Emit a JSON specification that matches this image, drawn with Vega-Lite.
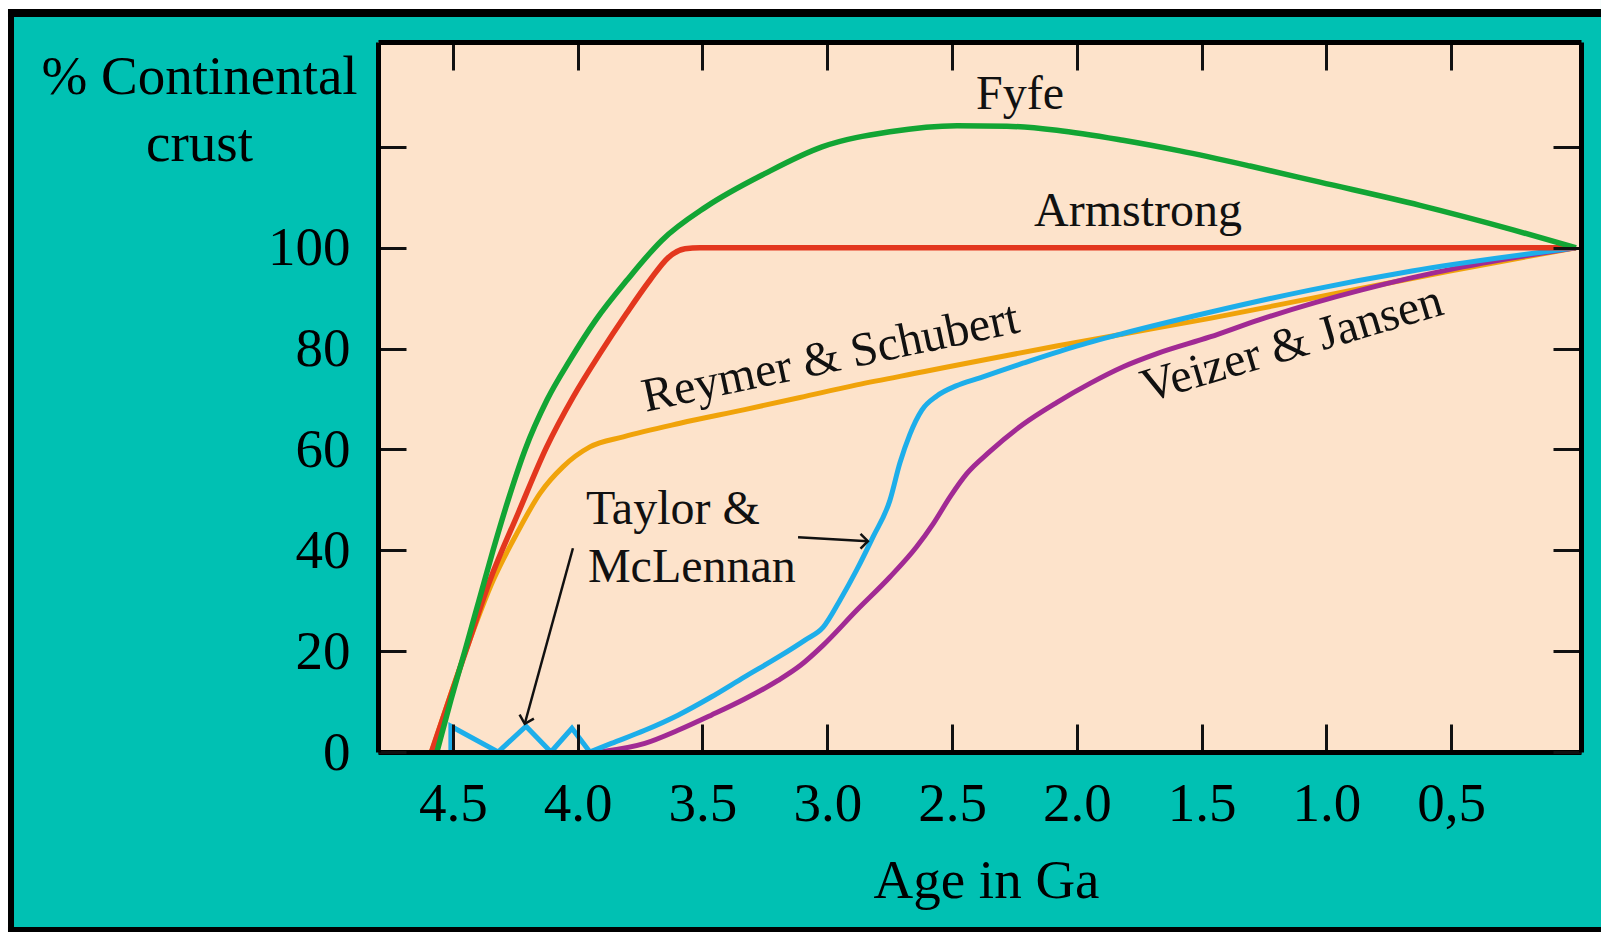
{
  "$schema": "https://vega.github.io/schema/vega-lite/v6.json",
  "width": 1203,
  "height": 710,
  "autosize": {"type": "none"},
  "padding": {"left": 378, "top": 42, "right": 20, "bottom": 180},
  "background": "#00C1B3",
  "config": {"view": {"stroke": null, "fill": null}},
  "datasets": {
    "one": [{}],
    "curves": [
      {"s": "Fyfe", "age": 4.564, "pct": 0},
      {"s": "Fyfe", "age": 4.508, "pct": 10.3},
      {"s": "Fyfe", "age": 4.451, "pct": 20.2},
      {"s": "Fyfe", "age": 4.395, "pct": 30.1},
      {"s": "Fyfe", "age": 4.339, "pct": 40.0},
      {"s": "Fyfe", "age": 4.279, "pct": 49.9},
      {"s": "Fyfe", "age": 4.211, "pct": 59.9},
      {"s": "Fyfe", "age": 4.123, "pct": 69.8},
      {"s": "Fyfe", "age": 4.031, "pct": 77.7},
      {"s": "Fyfe", "age": 3.927, "pct": 85.7},
      {"s": "Fyfe", "age": 3.802, "pct": 93.6},
      {"s": "Fyfe", "age": 3.662, "pct": 101.5},
      {"s": "Fyfe", "age": 3.486, "pct": 108.1},
      {"s": "Fyfe", "age": 3.246, "pct": 114.8},
      {"s": "Fyfe", "age": 3.021, "pct": 120.0},
      {"s": "Fyfe", "age": 2.749, "pct": 123.0},
      {"s": "Fyfe", "age": 2.48, "pct": 124.2},
      {"s": "Fyfe", "age": 2.28, "pct": 124.1},
      {"s": "Fyfe", "age": 2.08, "pct": 123.3},
      {"s": "Fyfe", "age": 1.815, "pct": 121.3},
      {"s": "Fyfe", "age": 1.587, "pct": 119.2},
      {"s": "Fyfe", "age": 1.306, "pct": 116.2},
      {"s": "Fyfe", "age": 1.026, "pct": 113.0},
      {"s": "Fyfe", "age": 0.625, "pct": 108.4},
      {"s": "Fyfe", "age": 0.249, "pct": 103.5},
      {"s": "Fyfe", "age": 0, "pct": 100},
      {"s": "Armstrong", "age": 4.586, "pct": 0},
      {"s": "Armstrong", "age": 4.447, "pct": 20.2},
      {"s": "Armstrong", "age": 4.351, "pct": 34.1},
      {"s": "Armstrong", "age": 4.239, "pct": 47.3},
      {"s": "Armstrong", "age": 4.124, "pct": 60.5},
      {"s": "Armstrong", "age": 4.018, "pct": 70.4},
      {"s": "Armstrong", "age": 3.911, "pct": 79.0},
      {"s": "Armstrong", "age": 3.804, "pct": 87.0},
      {"s": "Armstrong", "age": 3.71, "pct": 93.6},
      {"s": "Armstrong", "age": 3.638, "pct": 98.0},
      {"s": "Armstrong", "age": 3.57, "pct": 99.8},
      {"s": "Armstrong", "age": 3.51, "pct": 100},
      {"s": "Armstrong", "age": 2.0, "pct": 100},
      {"s": "Armstrong", "age": 0, "pct": 100},
      {"s": "Reymer & Schubert", "age": 4.586, "pct": 0},
      {"s": "Reymer & Schubert", "age": 4.447, "pct": 20.2},
      {"s": "Reymer & Schubert", "age": 4.338, "pct": 34.1},
      {"s": "Reymer & Schubert", "age": 4.244, "pct": 43.3},
      {"s": "Reymer & Schubert", "age": 4.151, "pct": 51.3},
      {"s": "Reymer & Schubert", "age": 4.058, "pct": 56.6},
      {"s": "Reymer & Schubert", "age": 3.951, "pct": 60.5},
      {"s": "Reymer & Schubert", "age": 3.817, "pct": 62.5},
      {"s": "Reymer & Schubert", "age": 3.59, "pct": 65.2},
      {"s": "Reymer & Schubert", "age": 3.331, "pct": 67.9},
      {"s": "Reymer & Schubert", "age": 3.109, "pct": 70.3},
      {"s": "Reymer & Schubert", "age": 2.882, "pct": 72.8},
      {"s": "Reymer & Schubert", "age": 2.615, "pct": 75.4},
      {"s": "Reymer & Schubert", "age": 2.348, "pct": 78.0},
      {"s": "Reymer & Schubert", "age": 2.081, "pct": 80.5},
      {"s": "Reymer & Schubert", "age": 1.814, "pct": 82.9},
      {"s": "Reymer & Schubert", "age": 1.467, "pct": 86.0},
      {"s": "Reymer & Schubert", "age": 1.066, "pct": 89.9},
      {"s": "Reymer & Schubert", "age": 0.505, "pct": 95.4},
      {"s": "Reymer & Schubert", "age": 0, "pct": 100},
      {"s": "Taylor & McLennan (early)", "age": 4.508, "pct": 0},
      {"s": "Taylor & McLennan (early)", "age": 4.508, "pct": 5.1},
      {"s": "Taylor & McLennan (early)", "age": 4.319, "pct": 0},
      {"s": "Taylor & McLennan (early)", "age": 4.207, "pct": 5.1},
      {"s": "Taylor & McLennan (early)", "age": 4.107, "pct": 0},
      {"s": "Taylor & McLennan (early)", "age": 4.023, "pct": 4.7},
      {"s": "Taylor & McLennan (early)", "age": 3.951, "pct": 0},
      {"s": "Taylor & McLennan", "age": 3.951, "pct": 0},
      {"s": "Taylor & McLennan", "age": 3.865, "pct": 1.7},
      {"s": "Taylor & McLennan", "age": 3.731, "pct": 4.3},
      {"s": "Taylor & McLennan", "age": 3.598, "pct": 7.3},
      {"s": "Taylor & McLennan", "age": 3.465, "pct": 10.9},
      {"s": "Taylor & McLennan", "age": 3.331, "pct": 14.9},
      {"s": "Taylor & McLennan", "age": 3.197, "pct": 18.8},
      {"s": "Taylor & McLennan", "age": 3.089, "pct": 22.2},
      {"s": "Taylor & McLennan", "age": 3.017, "pct": 24.7},
      {"s": "Taylor & McLennan", "age": 2.949, "pct": 30.1},
      {"s": "Taylor & McLennan", "age": 2.882, "pct": 36.1},
      {"s": "Taylor & McLennan", "age": 2.816, "pct": 42.7},
      {"s": "Taylor & McLennan", "age": 2.749, "pct": 49.9},
      {"s": "Taylor & McLennan", "age": 2.709, "pct": 57.3},
      {"s": "Taylor & McLennan", "age": 2.669, "pct": 63.0},
      {"s": "Taylor & McLennan", "age": 2.621, "pct": 67.8},
      {"s": "Taylor & McLennan", "age": 2.561, "pct": 70.6},
      {"s": "Taylor & McLennan", "age": 2.484, "pct": 72.6},
      {"s": "Taylor & McLennan", "age": 2.388, "pct": 74.2},
      {"s": "Taylor & McLennan", "age": 2.216, "pct": 77.1},
      {"s": "Taylor & McLennan", "age": 2.014, "pct": 80.3},
      {"s": "Taylor & McLennan", "age": 1.814, "pct": 83.0},
      {"s": "Taylor & McLennan", "age": 1.467, "pct": 87.2},
      {"s": "Taylor & McLennan", "age": 1.066, "pct": 91.6},
      {"s": "Taylor & McLennan", "age": 0.657, "pct": 95.4},
      {"s": "Taylor & McLennan", "age": 0, "pct": 100},
      {"s": "Veizer & Jansen", "age": 3.911, "pct": 0},
      {"s": "Veizer & Jansen", "age": 3.731, "pct": 1.7},
      {"s": "Veizer & Jansen", "age": 3.598, "pct": 4.3},
      {"s": "Veizer & Jansen", "age": 3.465, "pct": 7.3},
      {"s": "Veizer & Jansen", "age": 3.331, "pct": 10.5},
      {"s": "Veizer & Jansen", "age": 3.197, "pct": 14.2},
      {"s": "Veizer & Jansen", "age": 3.107, "pct": 17.2},
      {"s": "Veizer & Jansen", "age": 3.016, "pct": 21.2},
      {"s": "Veizer & Jansen", "age": 2.882, "pct": 28.1},
      {"s": "Veizer & Jansen", "age": 2.749, "pct": 34.7},
      {"s": "Veizer & Jansen", "age": 2.642, "pct": 40.7},
      {"s": "Veizer & Jansen", "age": 2.575, "pct": 45.3},
      {"s": "Veizer & Jansen", "age": 2.508, "pct": 50.6},
      {"s": "Veizer & Jansen", "age": 2.441, "pct": 55.2},
      {"s": "Veizer & Jansen", "age": 2.348, "pct": 59.6},
      {"s": "Veizer & Jansen", "age": 2.215, "pct": 65.0},
      {"s": "Veizer & Jansen", "age": 2.081, "pct": 69.3},
      {"s": "Veizer & Jansen", "age": 1.947, "pct": 73.1},
      {"s": "Veizer & Jansen", "age": 1.814, "pct": 76.4},
      {"s": "Veizer & Jansen", "age": 1.679, "pct": 79.0},
      {"s": "Veizer & Jansen", "age": 1.467, "pct": 82.3},
      {"s": "Veizer & Jansen", "age": 1.27, "pct": 85.7},
      {"s": "Veizer & Jansen", "age": 0.862, "pct": 91.6},
      {"s": "Veizer & Jansen", "age": 0.453, "pct": 96.2},
      {"s": "Veizer & Jansen", "age": 0, "pct": 100}
    ],
    "labels": [
      {"label": "Fyfe", "age": 2.228, "pct": 127.5},
      {"label": "Armstrong", "age": 1.755, "pct": 104.3},
      {"label": "Reymer & Schubert", "age": 2.975, "pct": 75.4},
      {"label": "Veizer & Jansen", "age": 1.122, "pct": 78.1},
      {"label": "Taylor &", "age": 3.967, "pct": 45.3},
      {"label": "McLennan", "age": 3.959, "pct": 33.7}
    ]
  },
  "resolve": {"axis": {"x": "independent", "y": "independent"}},
  "layer": [
    {
      "data": {"name": "one"},
      "mark": {"type": "rule", "stroke": "#FFFFFF", "strokeWidth": 9},
      "encoding": {
        "x": {"datum": 6.3145, "type": "quantitative", "scale": {"domain": [-0.02, 4.8], "reverse": true, "nice": false, "zero": false}, "axis": null},
        "x2": {"datum": -0.1},
        "y": {"datum": 148.24, "type": "quantitative", "scale": {"domain": [0, 140.8], "nice": false, "zero": false}, "axis": null}
      }
    },
    {
      "data": {"name": "one"},
      "mark": {"type": "rule", "stroke": "#FFFFFF", "strokeWidth": 8},
      "encoding": {
        "x": {"datum": 6.2985, "type": "quantitative", "scale": {"domain": [-0.02, 4.8], "reverse": true, "nice": false, "zero": false}, "axis": null},
        "y": {"datum": -35.69, "type": "quantitative", "scale": {"domain": [0, 140.8], "nice": false, "zero": false}, "axis": null},
        "y2": {"datum": 149.13}
      }
    },
    {
      "data": {"name": "one"},
      "mark": {"type": "rule", "stroke": "#000000", "strokeWidth": 8},
      "encoding": {
        "x": {"datum": 6.2825, "type": "quantitative", "scale": {"domain": [-0.02, 4.8], "reverse": true, "nice": false, "zero": false}, "axis": null},
        "x2": {"datum": -0.1},
        "y": {"datum": 146.55, "type": "quantitative", "scale": {"domain": [0, 140.8], "nice": false, "zero": false}, "axis": null}
      }
    },
    {
      "data": {"name": "one"},
      "mark": {"type": "rule", "stroke": "#000000", "strokeWidth": 5},
      "encoding": {
        "x": {"datum": 6.2825, "type": "quantitative", "scale": {"domain": [-0.02, 4.8], "reverse": true, "nice": false, "zero": false}, "axis": null},
        "x2": {"datum": -0.1},
        "y": {"datum": -35.2, "type": "quantitative", "scale": {"domain": [0, 140.8], "nice": false, "zero": false}, "axis": null}
      }
    },
    {
      "data": {"name": "one"},
      "mark": {"type": "rule", "stroke": "#000000", "strokeWidth": 6},
      "encoding": {
        "x": {"datum": 6.2704, "type": "quantitative", "scale": {"domain": [-0.02, 4.8], "reverse": true, "nice": false, "zero": false}, "axis": null},
        "y": {"datum": -35.69, "type": "quantitative", "scale": {"domain": [0, 140.8], "nice": false, "zero": false}, "axis": null},
        "y2": {"datum": 147.35}
      }
    },
    {
      "data": {"name": "one"},
      "mark": {"type": "rect", "fill": "#FDE3CB"},
      "encoding": {
        "x": {"datum": -0.02, "type": "quantitative", "scale": {"domain": [-0.02, 4.8], "reverse": true, "nice": false, "zero": false},
          "axis": {"orient": "bottom", "values": [4.5, 4, 3.5, 3, 2.5, 2, 1.5, 1, 0.5],
            "labelExpr": "datum.value == 0.5 ? '0,5' : format(datum.value, '.1f')",
            "tickSize": -28, "tickWidth": 3, "tickColor": "#111111",
            "domainColor": "#000000", "domainWidth": 5,
            "labelFont": "Liberation Serif", "labelFontSize": 55, "labelColor": "#000000", "labelPadding": 53,
            "labelOverlap": false, "labelFlush": false, "grid": false,
            "title": "Age in Ga", "titleFont": "Liberation Serif", "titleFontSize": 55, "titleFontWeight": "normal", "titleColor": "#000000",
            "titleX": 608, "titleY": 145, "titleBaseline": "alphabetic", "titleAlign": "center", "zindex": 1}},
        "x2": {"datum": 4.8},
        "y": {"datum": 0, "type": "quantitative", "scale": {"domain": [0, 140.8], "nice": false, "zero": false},
          "axis": {"orient": "left", "values": [0, 20, 40, 60, 80, 100, 120],
            "labelExpr": "datum.value > 100 ? '' : datum.label",
            "tickSize": -28, "tickWidth": 3, "tickColor": "#111111",
            "domainColor": "#000000", "domainWidth": 5,
            "labelFont": "Liberation Serif", "labelFontSize": 55, "labelColor": "#000000", "labelPadding": 56,
            "labelOverlap": false, "labelFlush": false, "grid": false,
            "title": ["% Continental", "crust"], "titleFont": "Liberation Serif", "titleFontSize": 55, "titleFontWeight": "normal", "titleColor": "#000000",
            "titleAngle": 0, "titleAlign": "center", "titleBaseline": "alphabetic", "titleX": -179, "titleY": 51, "titleLineHeight": 67, "zindex": 1}},
        "y2": {"datum": 140.8}
      }
    },
    {
      "data": {"name": "curves"},
      "transform": [{"filter": "datum.s == 'Reymer & Schubert'"}],
      "mark": {"type": "line", "color": "#F0A30A", "strokeWidth": 5, "interpolate": "monotone"},
      "encoding": {
        "x": {"field": "age", "type": "quantitative", "scale": {"domain": [-0.02, 4.8], "reverse": true, "nice": false, "zero": false},
          "axis": {"orient": "top", "values": [4.5, 4, 3.5, 3, 2.5, 2, 1.5, 1, 0.5], "labels": false,
            "tickSize": -28, "tickWidth": 3, "tickColor": "#111111", "domainColor": "#000000", "domainWidth": 5,
            "grid": false, "title": null, "zindex": 1}},
        "y": {"field": "pct", "type": "quantitative", "scale": {"domain": [0, 140.8], "nice": false, "zero": false},
          "axis": {"orient": "right", "values": [0, 20, 40, 60, 80, 100, 120], "labels": false,
            "tickSize": -28, "tickWidth": 3, "tickColor": "#111111", "domainColor": "#000000", "domainWidth": 5,
            "grid": false, "title": null, "zindex": 1}}
      }
    },
    {
      "data": {"name": "curves"},
      "transform": [{"filter": "datum.s == 'Veizer & Jansen'"}],
      "mark": {"type": "line", "color": "#A12A94", "strokeWidth": 5, "interpolate": "monotone"},
      "encoding": {
        "x": {"field": "age", "type": "quantitative", "scale": {"domain": [-0.02, 4.8], "reverse": true, "nice": false, "zero": false}, "axis": null},
        "y": {"field": "pct", "type": "quantitative", "scale": {"domain": [0, 140.8], "nice": false, "zero": false}, "axis": null}
      }
    },
    {
      "data": {"name": "curves"},
      "transform": [{"filter": "datum.s == 'Taylor & McLennan (early)'"}],
      "mark": {"type": "line", "color": "#1DAEEA", "strokeWidth": 5, "interpolate": "linear"},
      "encoding": {
        "x": {"field": "age", "type": "quantitative", "scale": {"domain": [-0.02, 4.8], "reverse": true, "nice": false, "zero": false}, "axis": null},
        "y": {"field": "pct", "type": "quantitative", "scale": {"domain": [0, 140.8], "nice": false, "zero": false}, "axis": null},
        "order": {"value": 0}
      }
    },
    {
      "data": {"name": "curves"},
      "transform": [{"filter": "datum.s == 'Taylor & McLennan'"}],
      "mark": {"type": "line", "color": "#1DAEEA", "strokeWidth": 5, "interpolate": "monotone"},
      "encoding": {
        "x": {"field": "age", "type": "quantitative", "scale": {"domain": [-0.02, 4.8], "reverse": true, "nice": false, "zero": false}, "axis": null},
        "y": {"field": "pct", "type": "quantitative", "scale": {"domain": [0, 140.8], "nice": false, "zero": false}, "axis": null}
      }
    },
    {
      "data": {"name": "curves"},
      "transform": [{"filter": "datum.s == 'Armstrong'"}],
      "mark": {"type": "line", "color": "#E3371E", "strokeWidth": 5.5, "interpolate": "monotone"},
      "encoding": {
        "x": {"field": "age", "type": "quantitative", "scale": {"domain": [-0.02, 4.8], "reverse": true, "nice": false, "zero": false}, "axis": null},
        "y": {"field": "pct", "type": "quantitative", "scale": {"domain": [0, 140.8], "nice": false, "zero": false}, "axis": null}
      }
    },
    {
      "data": {"name": "curves"},
      "transform": [{"filter": "datum.s == 'Fyfe'"}],
      "mark": {"type": "line", "color": "#12A534", "strokeWidth": 5.5, "interpolate": "monotone"},
      "encoding": {
        "x": {"field": "age", "type": "quantitative", "scale": {"domain": [-0.02, 4.8], "reverse": true, "nice": false, "zero": false}, "axis": null},
        "y": {"field": "pct", "type": "quantitative", "scale": {"domain": [0, 140.8], "nice": false, "zero": false}, "axis": null}
      }
    },
    {
      "data": {"name": "one"},
      "mark": {"type": "rule", "stroke": "#111111", "strokeWidth": 2.5},
      "encoding": {
        "x": {"datum": 4.019, "type": "quantitative", "scale": {"domain": [-0.02, 4.8], "reverse": true, "nice": false, "zero": false}, "axis": null},
        "x2": {"datum": 4.212},
        "y": {"datum": 40.4, "type": "quantitative", "scale": {"domain": [0, 140.8], "nice": false, "zero": false}, "axis": null},
        "y2": {"datum": 5.6}
      }
    },
    {
      "data": {"name": "one"},
      "mark": {"type": "point", "shape": "M -1 -1 L 0 0 L 1 -1", "filled": false, "stroke": "#111111", "strokeWidth": 2.5, "size": 220, "opacity": 1, "angle": 15.4},
      "encoding": {
        "x": {"datum": 4.212, "type": "quantitative", "scale": {"domain": [-0.02, 4.8], "reverse": true, "nice": false, "zero": false}, "axis": null},
        "y": {"datum": 5.6, "type": "quantitative", "scale": {"domain": [0, 140.8], "nice": false, "zero": false}, "axis": null}
      }
    },
    {
      "data": {"name": "one"},
      "mark": {"type": "rule", "stroke": "#111111", "strokeWidth": 2.5},
      "encoding": {
        "x": {"datum": 3.117, "type": "quantitative", "scale": {"domain": [-0.02, 4.8], "reverse": true, "nice": false, "zero": false}, "axis": null},
        "x2": {"datum": 2.837},
        "y": {"datum": 42.6, "type": "quantitative", "scale": {"domain": [0, 140.8], "nice": false, "zero": false}, "axis": null},
        "y2": {"datum": 41.8}
      }
    },
    {
      "data": {"name": "one"},
      "mark": {"type": "point", "shape": "M -1 -1 L 0 0 L -1 1", "filled": false, "stroke": "#111111", "strokeWidth": 2.5, "size": 220, "opacity": 1},
      "encoding": {
        "x": {"datum": 2.837, "type": "quantitative", "scale": {"domain": [-0.02, 4.8], "reverse": true, "nice": false, "zero": false}, "axis": null},
        "y": {"datum": 41.8, "type": "quantitative", "scale": {"domain": [0, 140.8], "nice": false, "zero": false}, "axis": null}
      }
    },
    {
      "data": {"name": "labels"},
      "transform": [{"filter": "datum.label == 'Fyfe' || datum.label == 'Armstrong'"}],
      "mark": {"type": "text", "font": "Liberation Serif", "fontSize": 48, "color": "#111111", "align": "center", "baseline": "alphabetic"},
      "encoding": {
        "x": {"field": "age", "type": "quantitative", "scale": {"domain": [-0.02, 4.8], "reverse": true, "nice": false, "zero": false}, "axis": null},
        "y": {"field": "pct", "type": "quantitative", "scale": {"domain": [0, 140.8], "nice": false, "zero": false}, "axis": null},
        "text": {"field": "label"}
      }
    },
    {
      "data": {"name": "labels"},
      "transform": [{"filter": "datum.label == 'Taylor &' || datum.label == 'McLennan'"}],
      "mark": {"type": "text", "font": "Liberation Serif", "fontSize": 48, "color": "#111111", "align": "left", "baseline": "alphabetic"},
      "encoding": {
        "x": {"field": "age", "type": "quantitative", "scale": {"domain": [-0.02, 4.8], "reverse": true, "nice": false, "zero": false}, "axis": null},
        "y": {"field": "pct", "type": "quantitative", "scale": {"domain": [0, 140.8], "nice": false, "zero": false}, "axis": null},
        "text": {"field": "label"}
      }
    },
    {
      "data": {"name": "labels"},
      "transform": [{"filter": "datum.label == 'Reymer & Schubert'"}],
      "mark": {"type": "text", "font": "Liberation Serif", "fontSize": 48, "color": "#111111", "align": "center", "baseline": "alphabetic", "angle": 348},
      "encoding": {
        "x": {"field": "age", "type": "quantitative", "scale": {"domain": [-0.02, 4.8], "reverse": true, "nice": false, "zero": false}, "axis": null},
        "y": {"field": "pct", "type": "quantitative", "scale": {"domain": [0, 140.8], "nice": false, "zero": false}, "axis": null},
        "text": {"field": "label"}
      }
    },
    {
      "data": {"name": "labels"},
      "transform": [{"filter": "datum.label == 'Veizer & Jansen'"}],
      "mark": {"type": "text", "font": "Liberation Serif", "fontSize": 48, "color": "#111111", "align": "center", "baseline": "alphabetic", "angle": 343.5},
      "encoding": {
        "x": {"field": "age", "type": "quantitative", "scale": {"domain": [-0.02, 4.8], "reverse": true, "nice": false, "zero": false}, "axis": null},
        "y": {"field": "pct", "type": "quantitative", "scale": {"domain": [0, 140.8], "nice": false, "zero": false}, "axis": null},
        "text": {"field": "label"}
      }
    }
  ]
}
